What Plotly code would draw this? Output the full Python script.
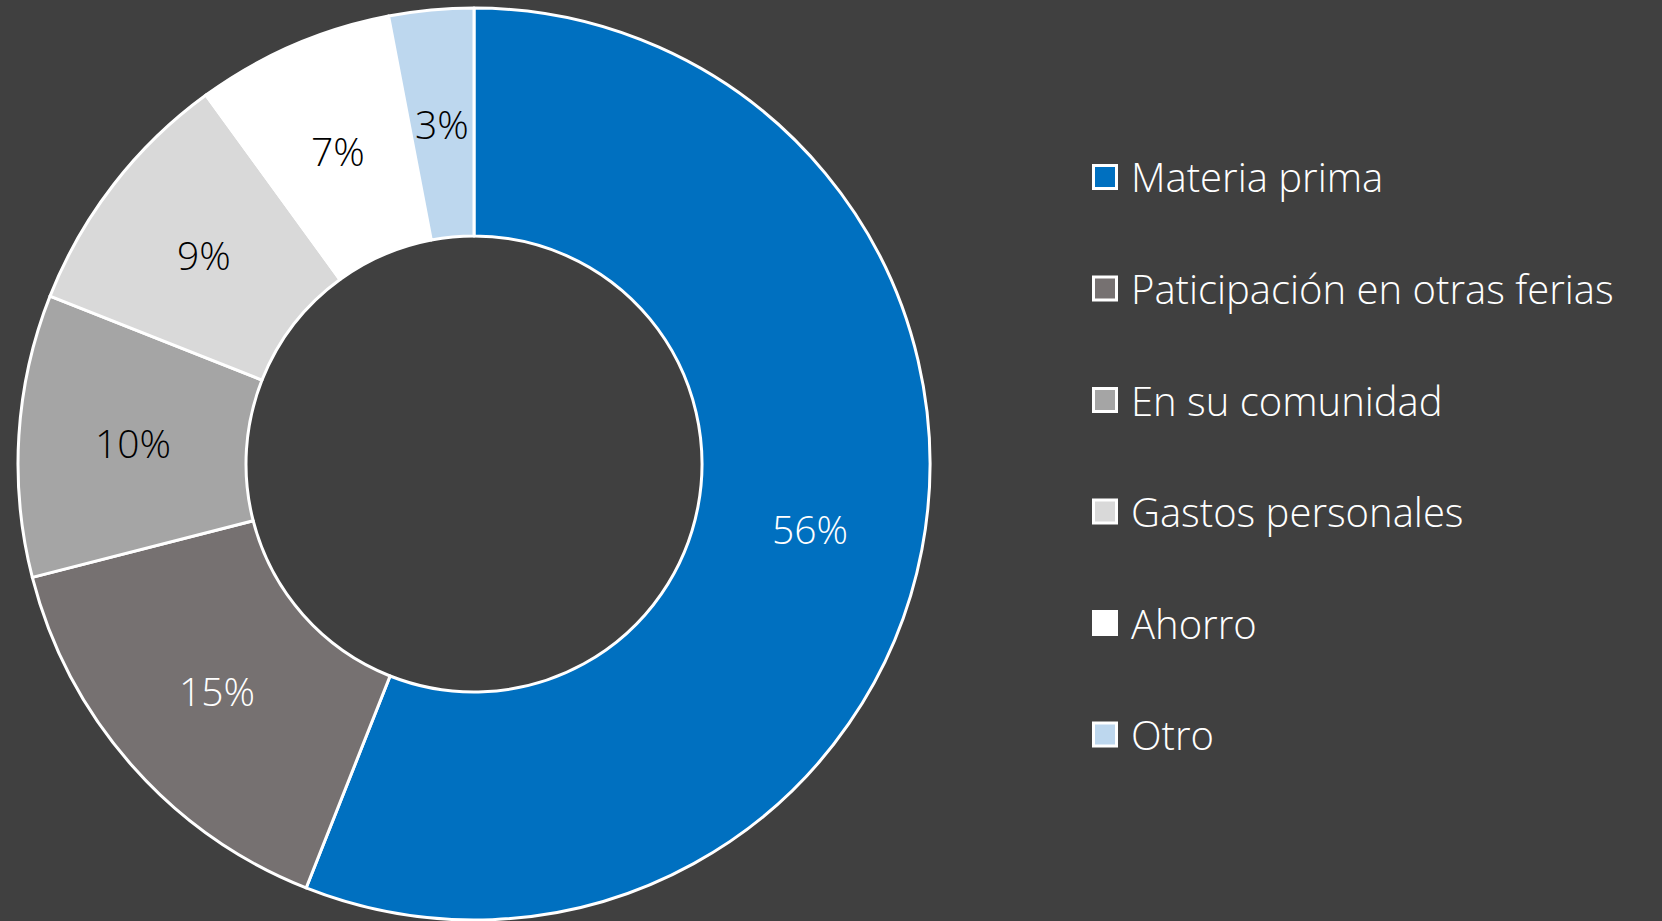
import math
import plotly.graph_objects as go

# Spending categories and their shares (%)
categories = ["Materia prima", "Paticipación en otras ferias", "En su comunidad",
              "Gastos personales", "Ahorro", "Otro"]
shares = [56, 15, 10, 9, 7, 3]
slice_colors = ["#0070C0", "#767171", "#A5A5A5", "#D9D9D9", "#FFFFFF", "#BDD7EE"]
label_colors = ["#FFFFFF", "#FFFFFF", "#000000", "#000000", "#000000", "#000000"]

W, H = 1662, 921
BG = "#404040"
FONT = "Open Sans"

# donut placement in pixels
cx, cy, R = 474, 464, 456
HOLE = 0.5

fig = go.Figure(go.Pie(
    labels=categories,
    values=shares,
    sort=False,
    direction="clockwise",
    rotation=0,
    hole=HOLE,
    marker=dict(colors=slice_colors, line=dict(color="#FFFFFF", width=3)),
    textinfo="none",
    showlegend=False,
    domain=dict(x=[(cx - R) / W, (cx + R) / W],
                y=[(H - cy - R) / H, (H - cy + R) / H]),
))

annotations, shapes = [], []

# percentage labels at the middle of each ring segment
total = sum(shares)
r_mid = R * (1 + HOLE) / 2
cum = 0
for v, col in zip(shares, label_colors):
    ang = 2 * math.pi * (cum + v / 2) / total
    cum += v
    px = cx + r_mid * math.sin(ang)
    py = cy - r_mid * math.cos(ang)
    annotations.append(dict(
        text=f"{round(100 * v / total)}%", xref="paper", yref="paper",
        x=px / W, y=1 - py / H, xanchor="center", yanchor="middle",
        showarrow=False, font=dict(family=FONT, size=39, color=col, weight=300),
    ))

# legend: square swatch plus label per category
leg_x0, leg_sq, leg_text_x = 1093.5, 23, 1129
leg_y_first, leg_step = 177, 111.5
for i, (name, col) in enumerate(zip(categories, slice_colors)):
    yc = leg_y_first + i * leg_step
    shapes.append(dict(
        type="rect", xref="paper", yref="paper",
        x0=leg_x0 / W, x1=(leg_x0 + leg_sq) / W,
        y0=1 - (yc + leg_sq / 2) / H, y1=1 - (yc - leg_sq / 2) / H,
        fillcolor=col, line=dict(color="#FFFFFF", width=3),
    ))
    annotations.append(dict(
        text=name, xref="paper", yref="paper",
        x=leg_text_x / W, y=1 - yc / H, xanchor="left", yanchor="middle",
        showarrow=False, font=dict(family=FONT, size=40, color="#FFFFFF", weight=300),
    ))

fig.update_layout(
    width=W, height=H,
    margin=dict(l=0, r=0, t=0, b=0),
    paper_bgcolor=BG, plot_bgcolor=BG,
    shapes=shapes, annotations=annotations,
)

fig.write_html("out.html")
